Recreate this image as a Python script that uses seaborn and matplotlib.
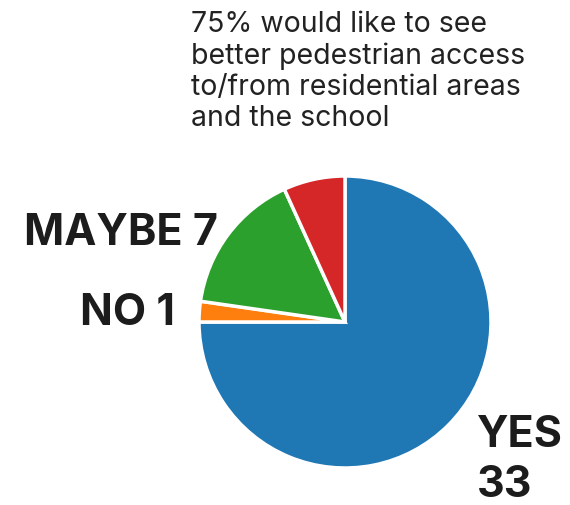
import matplotlib
matplotlib.use("Agg")
import matplotlib.pyplot as plt
import seaborn as sns

categories = ["YES", "NO", "MAYBE", "OTHER"]
values = [33, 1, 7, 3]
title_text = "75% would like to see\nbetter pedestrian access\nto/from residential areas\nand the school"

sns.set_theme(style="white")
plt.rcParams['font.family'] = ['Inter', 'DejaVu Sans']
colors = sns.color_palette("tab10", 4)

W, H = 570, 506
fig = plt.figure(figsize=(W / 100, H / 100), dpi=100)
ax = fig.add_axes([0, 0, 1, 1])

cx, cy, r = 345, H - 323, 146
ax.pie(values, colors=colors, startangle=90, counterclock=False,
       center=(cx, cy), radius=r,
       wedgeprops=dict(edgecolor="white", linewidth=2.5))
ax.set_xlim(0, W)
ax.set_ylim(0, H)
ax.set_aspect("equal")
ax.axis("off")

ax.text(191, H - 11, title_text, ha="left", va="top", fontsize=20.5,
        color="#222222", linespacing=1.2)

lbl = dict(fontsize=31, fontweight="bold", color="#1c1c1c")
ax.text(218, H - 245, f"{categories[2]} {values[2]}", ha="right", va="baseline", **lbl)
ax.text(175, H - 325, f"{categories[1]} {values[1]}", ha="right", va="baseline", **lbl)
ax.text(477, H - 447, f"{categories[0]}", ha="left", va="baseline", **lbl)
ax.text(477, H - 497, f"{values[0]}", ha="left", va="baseline", **lbl)

fig.savefig("out.png", dpi=100)
